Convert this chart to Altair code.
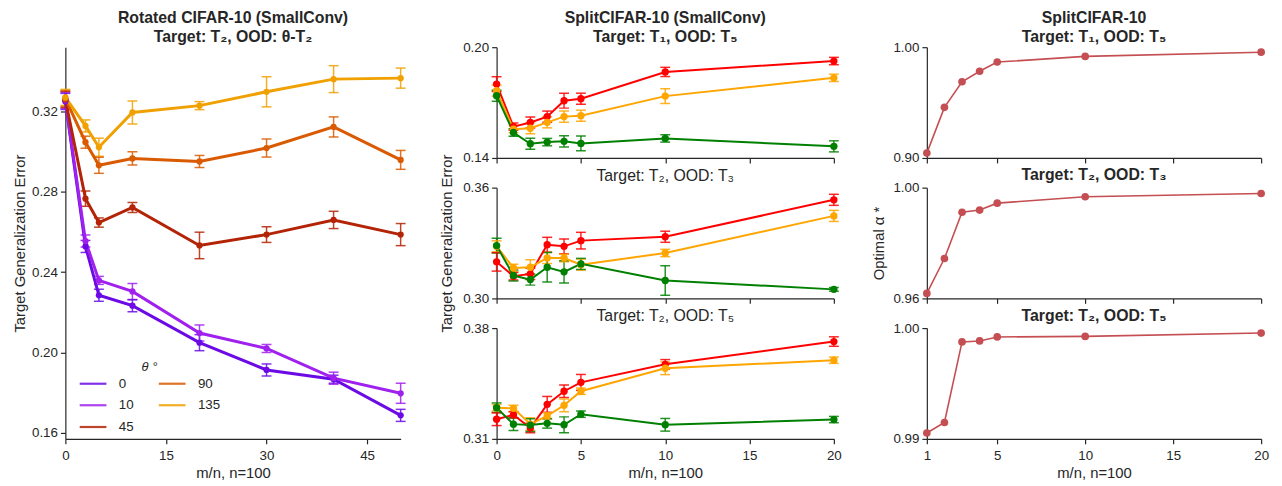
import altair as alt
import pandas as pd

# ---------------- data: left panel (Rotated CIFAR-10) ----------------
left_x = [0, 3, 5, 10, 20, 30, 40, 50]
theta_order = ["0", "10", "45", "90", "135"]
theta_colors = ["#6c0ae6", "#a020ee", "#b32406", "#d95a00", "#f0a000"]
err_theta0 = [0.3250, 0.2528, 0.2285, 0.2233, 0.2049, 0.1913, 0.1867, 0.1687]
sd_theta0 = [0.004, 0.003, 0.003, 0.003, 0.004, 0.003, 0.002, 0.003]
err_theta10 = [0.3255, 0.2555, 0.2359, 0.2304, 0.2097, 0.2020, 0.1872, 0.1797]
sd_theta10 = [0.004, 0.003, 0.002, 0.004, 0.004, 0.002, 0.003, 0.005]
err_theta45 = [0.3260, 0.2766, 0.2647, 0.2722, 0.2533, 0.2587, 0.2660, 0.2587]
sd_theta45 = [0.004, 0.0038, 0.0023, 0.0025, 0.0066, 0.0039, 0.0043, 0.0055]
err_theta90 = [0.3265, 0.3047, 0.2932, 0.2966, 0.2951, 0.3018, 0.3123, 0.2959]
sd_theta90 = [0.004, 0.003, 0.004, 0.0033, 0.003, 0.0045, 0.005, 0.0047]
err_theta135 = [0.3270, 0.3128, 0.3022, 0.3195, 0.3229, 0.3298, 0.3361, 0.3366]
sd_theta135 = [0.004, 0.003, 0.0045, 0.0057, 0.002, 0.0075, 0.0067, 0.005]

# ---------------- data: middle panels (SplitCIFAR-10) ----------------
mid_x = [0, 1, 2, 3, 4, 5, 10, 20]
series_names = ["red", "orange", "green"]
series_colors = ["#ff0000", "#ffa500", "#008000"]

t1t5_red = [0.1800, 0.1570, 0.1592, 0.1624, 0.1710, 0.1721, 0.1866, 0.1925]
t1t5_red_sd = [0.004, 0.002, 0.003, 0.003, 0.004, 0.003, 0.0025, 0.002]
t1t5_orange = [0.1765, 0.1556, 0.1561, 0.1593, 0.1624, 0.1629, 0.1735, 0.1834]
t1t5_orange_sd = [0.003, 0.002, 0.003, 0.003, 0.003, 0.003, 0.004, 0.002]
t1t5_green = [0.1737, 0.1538, 0.1477, 0.1486, 0.1490, 0.1479, 0.1506, 0.1463]
t1t5_green_sd = [0.003, 0.002, 0.003, 0.002, 0.003, 0.004, 0.002, 0.003]

t2t3_red = [0.3198, 0.3120, 0.3133, 0.3291, 0.3282, 0.3313, 0.3334, 0.3534]
t2t3_red_sd = [0.005, 0.002, 0.003, 0.004, 0.004, 0.0045, 0.003, 0.003]
t2t3_orange = [0.3282, 0.3165, 0.3169, 0.3219, 0.3219, 0.3183, 0.3246, 0.3447]
t2t3_orange_sd = [0.003, 0.002, 0.004, 0.003, 0.002, 0.003, 0.002, 0.003]
t2t3_green = [0.3286, 0.3124, 0.3102, 0.3169, 0.3144, 0.3187, 0.3097, 0.3049]
t2t3_green_sd = [0.004, 0.003, 0.003, 0.008, 0.006, 0.003, 0.008, 0.001]

t2t5_red = [0.3224, 0.3252, 0.3168, 0.3318, 0.3401, 0.3457, 0.3571, 0.3715]
t2t5_red_sd = [0.004, 0.002, 0.003, 0.005, 0.004, 0.005, 0.003, 0.003]
t2t5_orange = [0.3297, 0.3293, 0.3193, 0.3245, 0.3312, 0.3401, 0.3546, 0.3597]
t2t5_orange_sd = [0.002, 0.002, 0.004, 0.002, 0.004, 0.002, 0.004, 0.002]
t2t5_green = [0.3297, 0.3193, 0.3187, 0.3198, 0.3189, 0.3256, 0.3189, 0.3222]
t2t5_green_sd = [0.003, 0.004, 0.004, 0.003, 0.005, 0.002, 0.004, 0.002]

# ---------------- data: right panels (optimal alpha) ----------------
right_x = [1, 2, 3, 4, 5, 10, 20]
alpha_t1t5 = [0.9044, 0.9457, 0.9688, 0.9783, 0.9866, 0.9917, 0.9955]
alpha_t2t3 = [0.9618, 0.9744, 0.9911, 0.9919, 0.9944, 0.9967, 0.9979]
alpha_t2t5 = [0.99053, 0.99148, 0.99875, 0.99884, 0.99920, 0.99925, 0.99955]

FONT = "Liberation Sans"
TXT = "#262626"
TFS = 16


def long_df(xs, groups):
    rows = []
    for name, ys, sds in groups:
        for x, y, s in zip(xs, ys, sds):
            rows.append({"x": x, "y": y, "lo": y - s, "hi": y + s, "g": name})
    return pd.DataFrame(rows)


def err_panel(df, xscale, xaxis, yscale, yaxis, cscale, legend, width, height,
              line_w, pt_size, title=None):
    base = alt.Chart(df)
    x = alt.X("x:Q", scale=xscale, axis=xaxis)
    col = alt.Color("g:N", scale=cscale, legend=legend)
    rule = base.mark_rule(strokeWidth=1.5, opacity=0.85).encode(
        x=x, y=alt.Y("lo:Q", scale=yscale, axis=yaxis), y2="hi:Q", color=col)
    cap_lo = base.mark_tick(orient="horizontal", size=10, thickness=1.5, opacity=0.85).encode(
        x=x, y=alt.Y("lo:Q"), color=col)
    cap_hi = base.mark_tick(orient="horizontal", size=10, thickness=1.5, opacity=0.85).encode(
        x=x, y=alt.Y("hi:Q"), color=col)
    line = base.mark_line(strokeWidth=line_w).encode(x=x, y=alt.Y("y:Q"), color=col)
    pts = base.mark_circle(size=pt_size, opacity=1).encode(x=x, y=alt.Y("y:Q"), color=col)
    ch = alt.layer(rule, cap_lo, cap_hi, line, pts).properties(width=width, height=height)
    if title is not None:
        ch = ch.properties(title=title)
    return ch


def ttl(text, bold=True, offset=2):
    return alt.TitleParams(text, fontWeight="bold" if bold else "normal", fontSize=TFS,
                           font=FONT, color=TXT, anchor="middle", lineHeight=19, offset=offset)


# ---------------- left panel ----------------
left_df = long_df(left_x, [
    ("0", err_theta0, sd_theta0),
    ("10", err_theta10, sd_theta10),
    ("45", err_theta45, sd_theta45),
    ("90", err_theta90, sd_theta90),
    ("135", err_theta135, sd_theta135),
])
left_legend = alt.Legend(
    title="θ °", orient="none", legendX=13, legendY=317, columns=2,
    symbolType="stroke", symbolSize=729, symbolStrokeWidth=2.2,
    labelFontSize=13.5, labelFont=FONT, labelColor=TXT, labelOffset=11,
    titleFontSize=13, titleFont=FONT, titleFontStyle="italic", titleFontWeight="normal",
    titleColor=TXT, titleAnchor="middle", titlePadding=-5, columnPadding=20, rowPadding=-9,
)
left = err_panel(
    left_df,
    alt.Scale(domain=[0, 50], nice=False, padding=0),
    alt.Axis(values=[0, 15, 30, 45], title="m/n, n=100"),
    alt.Scale(domain=[0.157, 0.352], nice=False, zero=False, padding=0),
    alt.Axis(values=[0.16, 0.20, 0.24, 0.28, 0.32], format=".2f",
             title="Target Generalization Error", titlePadding=4),
    alt.Scale(domain=theta_order, range=theta_colors),
    left_legend, 339, 396, 3, 40,
    title=ttl(["Rotated CIFAR-10 (SmallConv)", "Target: T₂, OOD: θ-T₂"]),
)

# ---------------- middle panels ----------------
mid_cscale = alt.Scale(domain=series_names, range=series_colors)
mid_xscale = alt.Scale(domain=[0, 20], nice=False, padding=0)
mid_specs = [
    ([("red", t1t5_red, t1t5_red_sd), ("orange", t1t5_orange, t1t5_orange_sd),
      ("green", t1t5_green, t1t5_green_sd)], [0.14, 0.20], None,
     ttl(["SplitCIFAR-10 (SmallConv)", "Target: T₁, OOD: T₅"], offset=-5), False),
    ([("red", t2t3_red, t2t3_red_sd), ("orange", t2t3_orange, t2t3_orange_sd),
      ("green", t2t3_green, t2t3_green_sd)], [0.30, 0.36], "Target Generalization Error",
     ttl("Target: T₂, OOD: T₃", bold=False, offset=-30), False),
    ([("red", t2t5_red, t2t5_red_sd), ("orange", t2t5_orange, t2t5_orange_sd),
      ("green", t2t5_green, t2t5_green_sd)], [0.31, 0.38], None,
     ttl("Target: T₂, OOD: T₅", bold=False, offset=-3), True),
]
mid_charts = []
for groups, ydom, ytitle, title, bottom in mid_specs:
    df = long_df(mid_x, groups)
    if bottom:
        xaxis = alt.Axis(values=[0, 5, 10, 15, 20], title="m/n, n=100")
    else:
        xaxis = alt.Axis(values=[0, 5, 10, 15, 20], labels=False, title=None)
    if ytitle:
        yaxis = alt.Axis(values=ydom, format=".2f", title=ytitle, titlePadding=8)
    else:
        yaxis = alt.Axis(values=ydom, format=".2f", title=None)
    mid_charts.append(err_panel(df, mid_xscale, xaxis,
                                alt.Scale(domain=ydom, nice=False, zero=False, padding=0), yaxis,
                                mid_cscale, None, 341, 112, 2, 55, title=title))
middle = alt.vconcat(*mid_charts, spacing=30, bounds="flush")

# ---------------- right panels ----------------
right_specs = [
    (alpha_t1t5, [0.90, 1.00], None, ["SplitCIFAR-10", "Target: T₁, OOD: T₅"], -5, False),
    (alpha_t2t3, [0.96, 1.00], "Optimal α *", "Target: T₂, OOD: T₃", -2, False),
    (alpha_t2t5, [0.99, 1.00], None, "Target: T₂, OOD: T₅", -3, True),
]
right_charts = []
for ys, ydom, ytitle, title, toff, bottom in right_specs:
    df = pd.DataFrame({"x": right_x, "y": ys})
    if bottom:
        xaxis = alt.Axis(values=[1, 5, 10, 15, 20], title="m/n, n=100")
    else:
        xaxis = alt.Axis(values=[1, 5, 10, 15, 20], labels=False, title=None)
    if ytitle:
        yaxis = alt.Axis(values=ydom, format=".2f", title=ytitle, titlePadding=7)
    else:
        yaxis = alt.Axis(values=ydom, format=".2f", title=None)
    base = alt.Chart(df)
    enc = dict(x=alt.X("x:Q", scale=alt.Scale(domain=[1, 20], nice=False, padding=0), axis=xaxis),
               y=alt.Y("y:Q", scale=alt.Scale(domain=ydom, nice=False, zero=False, padding=0),
                       axis=yaxis))
    ch = alt.layer(
        base.mark_line(color="#c44e52", strokeWidth=1.6).encode(**enc),
        base.mark_circle(color="#c44e52", size=60, opacity=1).encode(**enc),
    ).properties(width=338, height=112, title=ttl(title, offset=toff))
    right_charts.append(ch)
right = alt.vconcat(*right_charts, spacing=30, bounds="flush")

mid_right = alt.hconcat(middle, right, spacing=29).resolve_scale(color="independent")
chart = alt.hconcat(left, mid_right, spacing=33).resolve_scale(color="independent").properties(
    padding={"left": 4, "top": 0, "right": 5, "bottom": 0}
).configure_view(stroke=None).configure_axis(
    grid=False, labelFont=FONT, labelFontSize=13.5, labelColor=TXT,
    titleFont=FONT, titleFontSize=15, titleColor=TXT, titleFontWeight="normal",
    domainColor=TXT, tickColor=TXT, tickSize=5, domainWidth=1.2, tickWidth=1.2,
    labelPadding=3, labelFlush=False,
).configure_axisX(labelPadding=5)

chart.save("out.html", embed_options={"renderer": "svg", "actions": False})
